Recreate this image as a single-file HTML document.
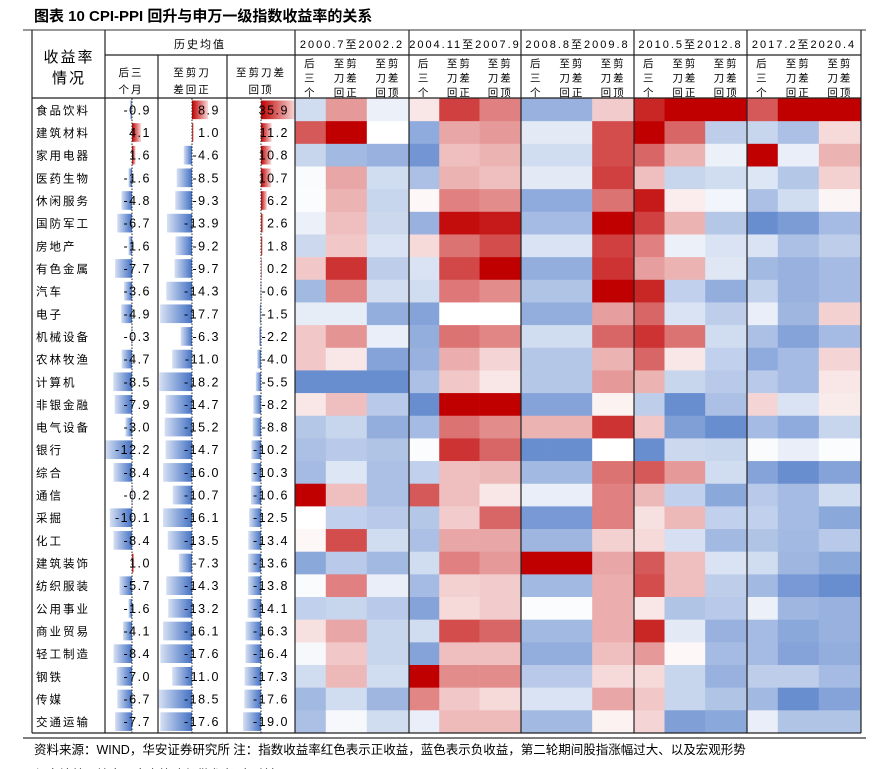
<!DOCTYPE html>
<html><head><meta charset="utf-8">
<style>
html,body{margin:0;padding:0;background:#fff;width:887px;height:769px;overflow:hidden}
svg{display:block;font-family:"Liberation Sans","Noto Sans CJK SC",sans-serif}
</style></head>
<body>
<svg id="chart" width="887" height="769" viewBox="0 0 887 769">
<defs>
<linearGradient id="gBlue" x1="0" x2="1" y1="0" y2="0"><stop offset="0" stop-color="#d6e0f3"/><stop offset="1" stop-color="#4472c4"/></linearGradient>
<linearGradient id="gRed" x1="0" x2="1" y1="0" y2="0"><stop offset="0" stop-color="#c00000"/><stop offset="1" stop-color="#f8d8d8"/></linearGradient>
</defs>
<text x="34" y="21" font-size="15" font-weight="bold" fill="#000">图表 10 CPI-PPI 回升与申万一级指数收益率的关系</text>
<line x1="23" y1="30" x2="866" y2="30" stroke="#777" stroke-width="1.5"/>
<g id="grid"></g>
<g id="marks"></g>
<g id="hdr"></g>
<line x1="23" y1="738" x2="866" y2="738" stroke="#555" stroke-width="1.5"/>
<text x="34" y="754" font-size="12.5" fill="#000">资料来源：WIND，华安证券研究所 注：指数收益率红色表示正收益，蓝色表示负收益，第二轮期间股指涨幅过大、以及宏观形势</text>
<text x="34" y="779" font-size="12.5" fill="#000">与本轮差异较大，本次策略仅供参考（见注）</text>
</svg>
<script>
const industries=["食品饮料","建筑材料","家用电器","医药生物","休闲服务","国防军工","房地产","有色金属","汽车","电子","机械设备","农林牧渔","计算机","非银金融","电气设备","银行","综合","通信","采掘","化工","建筑装饰","纺织服装","公用事业","商业贸易","轻工制造","钢铁","传媒","交通运输"];
const histAfter3m=[-0.9,4.1,1.6,-1.6,-4.8,-6.7,-1.6,-7.7,-3.6,-4.9,-0.3,-4.7,-8.5,-7.9,-3.0,-12.2,-8.4,-0.2,-10.1,-8.4,1.0,-5.7,-1.6,-4.1,-8.4,-7.0,-6.7,-7.7];
const histToPositive=[8.9,1.0,-4.6,-8.5,-9.3,-13.9,-9.2,-9.7,-14.3,-17.7,-6.3,-11.0,-18.2,-14.7,-15.2,-14.7,-16.0,-10.7,-16.1,-13.5,-7.3,-14.3,-13.2,-16.1,-17.6,-11.0,-18.5,-17.6];
const histToPeak=[35.9,11.2,10.8,10.7,6.2,2.6,1.8,0.2,-0.6,-1.5,-2.2,-4.0,-5.5,-8.2,-8.8,-10.2,-10.3,-10.6,-12.5,-13.4,-13.6,-13.8,-14.1,-16.3,-16.4,-17.3,-17.6,-19.0];
const periods=["2000.7至2002.2","2004.11至2007.9","2008.8至2009.8","2010.5至2012.8","2017.2至2020.4"];
const heatP1=[[-0.25,0.4,-0.1],[0.65,1,0],[-0.3,-0.5,-0.55],[-0.03,0.35,-0.25],[-0.02,0.3,-0.3],[-0.1,0.25,-0.28],[-0.28,0.22,-0.2],[0.22,0.8,-0.35],[-0.5,0.48,-0.24],[-0.13,-0.13,-0.58],[0.22,0.42,-0.12],[0.22,0.1,-0.65],[-0.8,-0.8,-0.8],[0.1,0.25,-0.38],[-0.4,-0.3,-0.58],[-0.45,-0.38,-0.42],[-0.48,-0.18,-0.45],[1,0.25,-0.45],[0,-0.33,-0.38],[0.03,0.7,-0.25],[-0.62,-0.38,-0.5],[-0.03,0.5,-0.12],[-0.33,-0.3,-0.38],[0.12,0.35,-0.3],[-0.05,0.22,-0.3],[-0.25,0.28,-0.25],[-0.5,-0.25,-0.52],[-0.45,-0.05,-0.25]];
const heatP2=[[0.1,0.75,0.5],[-0.6,0.35,0.4],[-0.75,0.25,0.3],[-0.45,0.3,0.25],[0.03,0.5,0.45],[-0.55,0.95,0.9],[0.15,0.55,0.7],[-0.2,0.72,1],[-0.25,0.53,0.45],[-0.65,0,0],[-0.58,0.55,0.48],[-0.55,0.32,0.17],[-0.45,0.22,0.1],[-0.8,1,1],[-0.48,0.55,0.45],[-0.02,0.8,0.6],[-0.33,0.25,0.28],[0.65,0.25,0.1],[-0.4,0.2,0.6],[-0.45,0.35,0.35],[-0.25,0.5,0.4],[-0.48,0.18,0.2],[-0.65,0.15,0.2],[-0.25,0.7,0.6],[-0.65,0.25,0.25],[1,0.45,0.45],[0.48,0.22,0.15],[-0.12,0.27,0.27]];
const heatP3=[[-0.55,-0.55,0.2],[-0.15,-0.15,0.7],[-0.25,-0.25,0.7],[-0.15,-0.15,0.75],[-0.6,-0.6,0.55],[-0.48,-0.48,1],[-0.2,-0.2,0.75],[-0.58,-0.58,0.8],[-0.42,-0.42,1],[-0.58,-0.58,0.38],[-0.25,-0.25,0.6],[-0.4,-0.4,0.3],[-0.4,-0.4,0.4],[-0.65,-0.65,0.05],[0.3,0.3,0.8],[-0.8,-0.8,0],[-0.5,-0.5,0.55],[-0.12,-0.12,0.5],[-0.72,-0.72,0.5],[-0.52,-0.52,0.18],[1,1,0.35],[-0.5,-0.5,0.32],[-0.02,-0.02,0.32],[-0.5,-0.5,0.32],[-0.58,-0.58,0.25],[-0.38,-0.38,0.15],[-0.2,-0.2,0.35],[-0.5,-0.5,0.05]];
const heatP4=[[0.85,1,1],[1,0.6,-0.35],[0.6,0.3,-0.1],[0.25,-0.3,-0.25],[0.9,0.07,-0.07],[0.75,0.3,-0.4],[0.5,-0.1,-0.2],[0.38,0.3,-0.17],[0.85,-0.33,-0.58],[0.6,-0.2,-0.35],[0.8,0.55,-0.25],[0.6,0.1,-0.33],[0.3,-0.3,-0.38],[-0.35,-0.8,-0.45],[0.22,-0.68,-0.8],[-0.8,-0.28,-0.3],[0.65,0.4,-0.25],[0.28,-0.33,-0.62],[0.12,0.28,-0.33],[0.15,-0.22,-0.5],[0.65,0.25,-0.2],[0.7,0.25,-0.35],[0.1,-0.42,-0.38],[0.85,-0.15,-0.55],[0.4,0.03,-0.48],[0.15,-0.3,-0.55],[0.22,-0.3,-0.42],[0.17,-0.68,-0.62]];
const heatP5=[[0.65,1,1],[-0.3,-0.45,0.15],[1,-0.12,0.3],[-0.18,-0.4,0.18],[-0.45,-0.25,0.04],[-0.8,-0.7,-0.48],[-0.2,-0.45,-0.35],[-0.5,-0.55,-0.48],[-0.32,-0.55,-0.48],[-0.12,-0.52,0.18],[-0.45,-0.65,-0.48],[-0.6,-0.48,0.17],[-0.38,-0.48,0.1],[0.17,-0.2,0.08],[-0.48,-0.6,-0.3],[-0.03,-0.12,-0.02],[-0.65,-0.8,-0.65],[-0.38,-0.48,-0.25],[-0.33,-0.48,-0.62],[-0.42,-0.5,-0.38],[-0.25,-0.52,-0.62],[-0.5,-0.72,-0.8],[-0.1,-0.52,-0.55],[-0.48,-0.62,-0.55],[-0.48,-0.65,-0.58],[-0.35,-0.35,-0.48],[-0.5,-0.8,-0.65],[-0.12,-0.42,-0.42]];
const heatAll=[heatP1,heatP2,heatP3,heatP4,heatP5];

const NS="http://www.w3.org/2000/svg";
const svg=document.getElementById('chart');
const marks=document.getElementById('marks'),hdr=document.getElementById('hdr');
function mk(tag,attrs,parent){const e=document.createElementNS(NS,tag);for(const k in attrs)e.setAttribute(k,attrs[k]);parent.appendChild(e);return e;}
const top0=98.5,rowH=22.66;
const rowY=i=>top0+i*rowH;
function heatColor(v){
  const t=Math.min(1,Math.abs(v));
  const c=v>=0?[192,0,0]:[68,114,196];
  const r=Math.round(255+(c[0]-255)*t),g=Math.round(255+(c[1]-255)*t),b=Math.round(255+(c[2]-255)*t);
  return `rgb(${r},${g},${b})`;
}
const groupX=[295,409,521,634,747,861];
const cellFr=[0,0.27,0.63,1];
heatAll.forEach((per,p)=>{
  const gx0=groupX[p],gw=groupX[p+1]-gx0;
  per.forEach((row,i)=>{
    row.forEach((v,c)=>{
      const x=gx0+cellFr[c]*gw,w=(cellFr[c+1]-cellFr[c])*gw;
      const r=mk('rect',{x:x,y:rowY(i),width:w+0.3,height:rowH+0.3,fill:heatColor(v)},marks);
      
      
    });
  });
});
const barCols=[
  {data:histAfter3m,axis:132,scale:2.2,textR:151,name:'after-3m'},
  {data:histToPositive,axis:192,scale:1.8,textR:220,name:'to-positive'},
  {data:histToPeak,axis:261,scale:0.95,textR:289,name:'to-peak'}
];
barCols.forEach(col=>{
  col.data.forEach((v,i)=>{
    const len=Math.abs(v)*col.scale;
    const x=v>=0?col.axis:col.axis-len;
    const r=mk('rect',{x:x,y:rowY(i)+2,width:Math.max(len,0.8),height:rowH-4,fill:v>=0?'url(#gRed)':'url(#gBlue)'},marks);
    
    
    const t=mk('text',{x:col.textR,y:rowY(i)+rowH/2+4.5,'font-size':12.5,'text-anchor':'end','letter-spacing':'1.5',fill:'#000'},marks);
    t.textContent=v.toFixed(1);
    
    
  });
  const a=mk('line',{x1:col.axis,y1:top0,x2:col.axis,y2:rowY(industries.length),stroke:'#222','stroke-width':1,'stroke-dasharray':'1.5,1.5'},marks);
  
  
});
industries.forEach((n,i)=>{
  const t=mk('text',{x:36,y:rowY(i)+rowH/2+4.5,'font-size':11.5,'letter-spacing':'2',fill:'#000'},marks);
  t.textContent=n;
  
  
});
const bottom=rowY(industries.length);
[[32,30,32,bottom],[105,30,105,bottom],[158,55,158,bottom],[227,55,227,bottom],[295,30,295,bottom],[409,30,409,bottom],[521,30,521,bottom],[634,30,634,bottom],[747,30,747,bottom],[861,30,861,bottom],
 [105,55,861,55],[32,98,861,98],[32,bottom,861,bottom]].forEach(l=>{
  const e=mk('line',{x1:l[0],y1:l[1],x2:l[2],y2:l[3],stroke:'#222','stroke-width':1.2},svg);
  
  
});
function txt(s,x,y,size,name){const t=mk('text',{x:x,y:y,'font-size':size,'text-anchor':'middle','letter-spacing':'2',fill:'#000'},hdr);t.textContent=s;return t;}
txt('收益率',69,62,15,'row-header');
txt('情况',69,83,15,'row-header');
txt('历史均值',200,48,11,'group-header-history');
[[131,['后三','个月']],[192,['至剪刀','差回正']],[261,['至剪刀差','回顶']]].forEach(h=>{h[1].forEach((s,k)=>txt(s,h[0],76+k*17,10.5,'column-header'));});
periods.forEach((p,k)=>{
  const g0=groupX[k],gw=groupX[k+1]-g0;
  txt(p,g0+gw/2,48,11,'period-header');
  const cols=[['后','三','个'],['至剪','刀差','回正'],['至剪','刀差','回顶']];
  cols.forEach((c,j)=>{const cx=g0+(cellFr[j]+cellFr[j+1])/2*gw;c.forEach((s,m)=>txt(s,cx,67+m*14.5,10.5,'column-header'));});
});
</script>
</body></html>
